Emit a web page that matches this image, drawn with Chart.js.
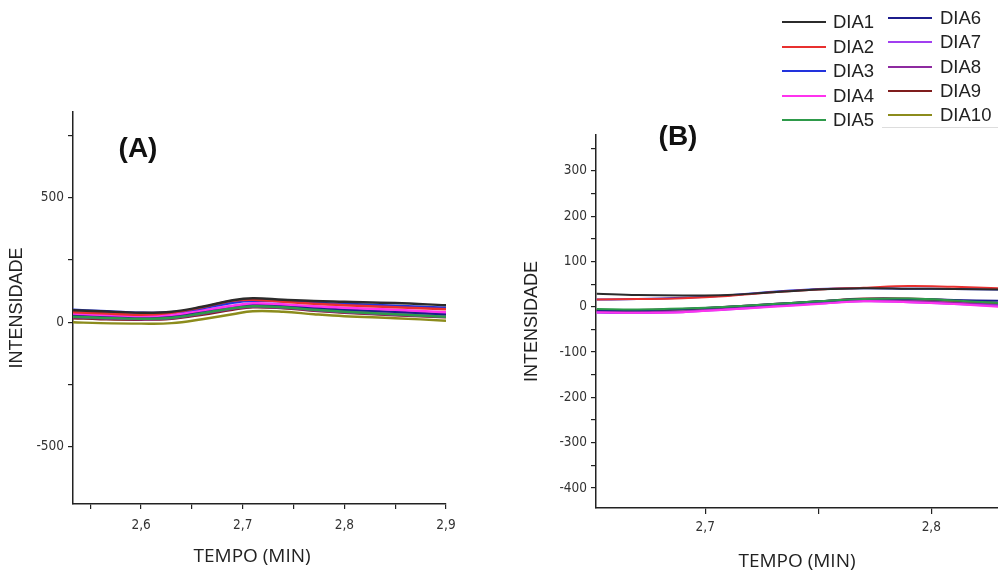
<!DOCTYPE html>
<html>
<head>
<meta charset="utf-8">
<script src="https://cdn.jsdelivr.net/npm/chart.js@4.4.1/dist/chart.umd.min.js"></script>
<style>
html, body { margin: 0; padding: 0; background: #fff; }
#wrap { position: relative; width: 998px; height: 571px; overflow: hidden; }
canvas { position: absolute; top: 0; }
#cA { left: 0; }
#cB { left: 500px; }
.panel { position: absolute; font: bold 28px "Liberation Sans", Arial, sans-serif; color: #111; transform: translate(-50%, -50%); }
.ln { position: absolute; height: 2px; width: 44px; }
.tx { position: absolute; font: 18.5px "Liberation Sans", Arial, sans-serif; color: #222; transform: translateY(-50%); white-space: nowrap; }
#legLine { position: absolute; left: 882px; top: 127px; width: 116px; height: 1px; background: #ddd; }
</style>
</head>
<body>
<div id="wrap">
    <canvas id="cA" width="500" height="571"></canvas>
    <canvas id="cB" width="498" height="571"></canvas>
    <div class="panel" style="left:138px;top:148px">(A)</div>
    <div class="panel" style="left:678px;top:136px">(B)</div>
    <div id="legend"></div>
    <div id="legLine"></div>
</div>
<script>
const NOMES = ["DIA1", "DIA2", "DIA3", "DIA4", "DIA5", "DIA6", "DIA7", "DIA8", "DIA9", "DIA10"];
const CORES = ["#2b2b2b", "#e8302f", "#2233dd", "#ff33ee", "#2e9a4a", "#1c1c8c", "#a13ff0", "#8e2aa0", "#7f1d1d", "#8c8c1c"];

// painel A
const TEMPO_A = [2.533, 2.56, 2.6, 2.63, 2.66, 2.69, 2.71, 2.74, 2.77, 2.8, 2.85, 2.9];
const A_DIA1  = [48, 44, 38, 42, 62, 88, 96, 90, 85, 82, 77, 68];
const A_DIA2  = [40, 36, 30, 38, 60, 86, 90, 82, 74, 68, 60, 52];
const A_DIA3  = [50, 45, 38, 40, 56, 78, 86, 84, 78, 74, 66, 58];
const A_DIA4  = [35, 30, 25, 30, 48, 66, 76, 72, 64, 58, 50, 40];
const A_DIA5  = [22, 18, 14, 18, 36, 56, 64, 60, 50, 42, 32, 22];
const A_DIA6  = [30, 26, 20, 24, 42, 62, 70, 66, 58, 50, 42, 32];
const A_DIA7  = [26, 22, 18, 22, 40, 60, 68, 64, 54, 46, 38, 28];
const A_DIA8  = [20, 16, 12, 16, 34, 54, 62, 58, 48, 40, 30, 22];
const A_DIA9  = [16, 12, 10, 14, 30, 50, 60, 56, 46, 38, 28, 20];
const A_DIA10 = [0, -4, -6, -4, 12, 32, 44, 42, 32, 24, 16, 6];
const SERIES_A = [A_DIA1, A_DIA2, A_DIA3, A_DIA4, A_DIA5, A_DIA6, A_DIA7, A_DIA8, A_DIA9, A_DIA10];
const ROTULOS_X_A = [2.6, 2.7, 2.8, 2.9];
const ROTULOS_Y_A = [-500, 0, 500];

// painel B
const TEMPO_B = [2.652, 2.67, 2.69, 2.71, 2.73, 2.75, 2.77, 2.79, 2.81, 2.83];
const B_DIA1  = [29, 26, 25, 26, 32, 38, 41, 40, 39, 38];
const B_DIA2  = [16, 17, 19, 24, 32, 38, 42, 46, 44, 41];
const B_DIA3  = [16, 17, 20, 25, 33, 39, 41, 40, 39, 38];
const B_DIA4  = [-12, -13, -12, -6, 0, 6, 12, 10, 6, 0];
const B_DIA5  = [-5, -6, -4, 0, 6, 12, 17, 18, 14, 8];
const B_DIA6  = [-8, -8, -5, 0, 6, 12, 17, 17, 15, 13];
const B_DIA7  = [-13, -14, -12, -6, 1, 7, 12, 10, 6, 2];
const B_DIA8  = [-11, -12, -10, -4, 3, 9, 14, 13, 9, 4];
const B_DIA9  = [-7, -7, -5, 0, 6, 12, 18, 18, 14, 8];
const B_DIA10 = [-9, -9, -6, -1, 5, 11, 16, 16, 12, 6];
const SERIES_B = [B_DIA1, B_DIA2, B_DIA3, B_DIA4, B_DIA5, B_DIA6, B_DIA7, B_DIA8, B_DIA9, B_DIA10];
const ROTULOS_X_B = [2.7, 2.8];
const ROTULOS_Y_B = [-400, -300, -200, -100, 0, 100, 200, 300];

const FONTE_TICK = "'Liberation Sans Narrow', 'DejaVu Sans Condensed', 'Liberation Sans', Arial, sans-serif";
const FONTE_TITULO = "'Liberation Sans', Arial, sans-serif";
const FONTE_TEMPO = "'Open Sans', 'Liberation Sans', sans-serif";

function rotulo(lista, fmt) {
    return function (v) {
        const ok = lista.some(r => Math.abs(r - v) < 1e-6);
        return ok ? fmt(v) : "";
    };
}

function fixar(prop, valor) {
    return function (s) {
        s[prop] = valor;
        s.paddingTop = 0;
        s.paddingBottom = 0;
        s.paddingLeft = 0;
        s.paddingRight = 0;
    };
}

function criarGrafico(id, tempo, series, cfg) {
    const datasets = series.map((vals, i) => ({
        label: NOMES[i],
        data: tempo.map((t, k) => ({ x: t, y: vals[k] })),
        borderColor: CORES[i],
        borderWidth: cfg.espessura,
        pointRadius: 0,
        tension: 0.4,
        fill: false
    }));

    return new Chart(document.getElementById(id), {
        type: "line",
        data: { datasets },
        options: {
            responsive: false,
            animation: false,
            events: [],
            layout: { padding: cfg.padding },
            plugins: { legend: { display: false }, tooltip: { enabled: false } },
            scales: {
                x: {
                    type: "linear",
                    min: cfg.xMin,
                    max: cfg.xMax,
                    afterFit: fixar("height", cfg.alturaX),
                    border: { color: "#222", width: 1.5 },
                    grid: { drawOnChartArea: false, tickLength: cfg.tickX, color: "#222", lineWidth: 1.2 },
                    ticks: {
                        stepSize: cfg.passoX,
                        includeBounds: false,
                        autoSkip: false,
                        maxRotation: 0,
                        padding: cfg.padX,
                        color: "#333",
                        font: { family: FONTE_TICK, size: cfg.tamTick },
                        callback: rotulo(cfg.rotX, v => v.toFixed(1).replace(".", ","))
                    },
                    title: {
                        display: true,
                        text: cfg.tituloX,
                        color: "#222",
                        font: { family: FONTE_TEMPO, size: 19, lineHeight: 1 },
                        padding: { top: 0, bottom: cfg.padTituloX }
                    }
                },
                y: {
                    type: "linear",
                    min: cfg.yMin,
                    max: cfg.yMax,
                    afterFit: fixar("width", cfg.larguraY),
                    border: { color: "#222", width: 1.5 },
                    grid: { drawOnChartArea: false, tickLength: 5, color: "#222", lineWidth: 1.2 },
                    ticks: {
                        stepSize: cfg.passoY,
                        includeBounds: false,
                        autoSkip: false,
                        padding: 4,
                        color: "#333",
                        font: { family: FONTE_TICK, size: cfg.tamTick },
                        callback: rotulo(cfg.rotY, v => String(v))
                    },
                    title: {
                        display: true,
                        text: "INTENSIDADE",
                        color: "#222",
                        font: { family: FONTE_TITULO, size: 18, lineHeight: 1 },
                        padding: { top: cfg.padTituloY, bottom: 0 }
                    }
                }
            }
        }
    });
}

criarGrafico("cA", TEMPO_A, SERIES_A, {
    xMin: 2.533, xMax: 2.9, yMin: -731, yMax: 845,
    passoX: 0.05, passoY: 250, rotX: ROTULOS_X_A, rotY: ROTULOS_Y_A,
    padding: { top: 112, right: 54, left: 0, bottom: 0 },
    alturaX: 67, larguraY: 73, tickX: 5, padX: 8, tamTick: 13.5,
    tituloX: "TEMPO (MIN)   ",
    padTituloX: 5, padTituloY: 8, espessura: 2.4
});

criarGrafico("cB", TEMPO_B, SERIES_B, {
    xMin: 2.6517, xMax: 2.8295, yMin: -444, yMax: 379,
    passoX: 0.05, passoY: 50, rotX: ROTULOS_X_B, rotY: ROTULOS_Y_B,
    padding: { top: 135, right: 0, left: 0, bottom: 0 },
    alturaX: 63, larguraY: 96, tickX: 6, padX: 5, tamTick: 13.5,
    tituloX: "TEMPO (MIN)",
    padTituloX: 0, padTituloY: 23, espessura: 2
});

// legenda em duas colunas
const legenda = document.getElementById("legend");
NOMES.forEach((nome, i) => {
    const col = i < 5 ? 0 : 1;
    const lin = i % 5;
    const y = col === 0 ? 22 + lin * 24.5 : 18 + lin * 24.3;
    const xLinha = col === 0 ? 782 : 888;
    const xTexto = col === 0 ? 833 : 940;

    const ln = document.createElement("div");
    ln.className = "ln";
    ln.style.left = xLinha + "px";
    ln.style.top = (y - 1) + "px";
    ln.style.background = CORES[i];
    legenda.appendChild(ln);

    const tx = document.createElement("div");
    tx.className = "tx";
    tx.style.left = xTexto + "px";
    tx.style.top = y + "px";
    tx.textContent = nome;
    legenda.appendChild(tx);
});
</script>
</body>
</html>
